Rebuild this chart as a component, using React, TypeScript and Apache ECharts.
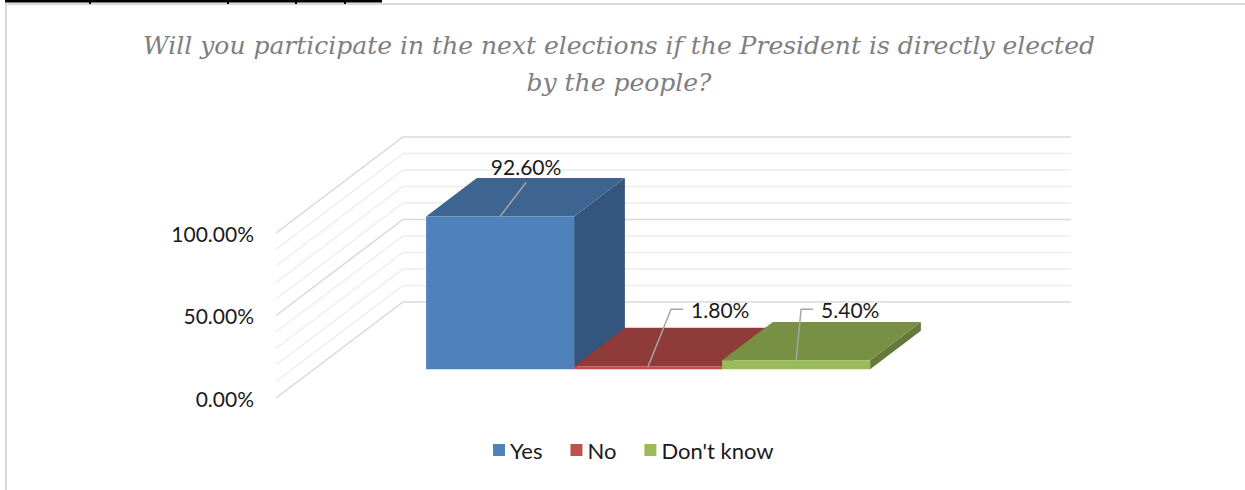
import React, { useEffect, useRef } from "react";
import * as echarts from "echarts";

const categories = ["Yes", "No", "Don't know"];
const values = [92.6, 1.8, 5.4];
const seriesColors = ["#4f81bd", "#c0504d", "#9bbb59"];
const topColors = ["#3e6491", "#8f3b3a", "#779044"];
const sideColors = ["#34557d", "#7a3231", "#66793b"];
const yTicks = [0, 50, 100];
const gridTicks = [0, 10, 20, 30, 40, 50, 60, 70, 80, 90, 100];
const titleText =
  "Will you participate in the next elections if the President is directly elected\nby the people?";

// layout (pixels)
const DX = 127;
const DY = -96;
const FRONT = 0.3;
const DEPTH = 0.4;
const GAP = 0.757;
const labelAnchors = [
  { dx: 26, dy: -34, hx: 0, mode: "above" },
  { dx: 23, dy: -57, hx: 12, mode: "side" },
  { dx: 5, dy: -51, hx: 12, mode: "side" },
];

const FONT = "Lato, 'Open Sans', sans-serif";

export default function App() {
  const ref = useRef<HTMLDivElement>(null);
  useEffect(() => {
    if (!ref.current) return;
    const chart = echarts.init(ref.current, null, { renderer: "svg" });

    const barSeries = categories.map((name, i) => ({
      name,
      type: "custom",
      clip: false,
      z: 3,
      itemStyle: { color: seriesColors[i] },
      data: [[i, values[i]]],
      renderItem: (params: any, api: any) => {
        const cat = api.value(0);
        const val = api.value(1);
        const bw = api.size([1, 0])[0];
        const p0 = api.coord([cat, 0]);
        const p1 = api.coord([cat, val]);
        const fdx = FRONT * DX;
        const fdy = FRONT * DY;
        const ddx = DEPTH * DX;
        const ddy = DEPTH * DY;
        const xl = p0[0] - bw / 2 + fdx;
        const xr = xl + bw;
        const y0 = p0[1] + fdy;
        const y1 = p1[1] + fdy;
        const children: any[] = [
          {
            type: "polygon",
            shape: { points: [[xr, y1], [xr + ddx, y1 + ddy], [xr + ddx, y0 + ddy], [xr, y0]] },
            style: { fill: sideColors[i] },
          },
          {
            type: "polygon",
            shape: { points: [[xl, y1], [xr, y1], [xr + ddx, y1 + ddy], [xl + ddx, y1 + ddy]] },
            style: { fill: topColors[i] },
          },
          {
            type: "rect",
            shape: { x: xl, y: y1, width: bw, height: Math.max(y0 - y1, 0) },
            style: { fill: seriesColors[i] },
          },
        ];
        const cx = (xl + xr) / 2;
        const a = labelAnchors[i];
        const ex = cx + a.dx;
        const ey = y1 + a.dy;
        const text = val.toFixed(2) + "%";
        if (a.mode === "above") {
          children.push({
            type: "polyline",
            shape: { points: [[cx, y1], [ex, ey]] },
            style: { stroke: "#a6a6a6", lineWidth: 1.5, fill: "none" },
          });
          children.push({
            type: "text",
            style: {
              text,
              x: ex,
              y: ey - 16,
              align: "center",
              verticalAlign: "middle",
              font: "21px " + FONT,
              fill: "#1a1a1a",
            },
          });
        } else {
          children.push({
            type: "polyline",
            shape: { points: [[cx, y1], [ex, ey], [ex + a.hx, ey]] },
            style: { stroke: "#a6a6a6", lineWidth: 1.5, fill: "none" },
          });
          children.push({
            type: "text",
            style: {
              text,
              x: ex + a.hx + 8,
              y: ey,
              align: "left",
              verticalAlign: "middle",
              font: "21px " + FONT,
              fill: "#1a1a1a",
            },
          });
        }
        return { type: "group", children };
      },
    }));

    const wallSeries = {
      name: "walls",
      type: "custom",
      silent: true,
      clip: false,
      z: 1,
      data: gridTicks.map((v) => [0, v]),
      renderItem: (params: any, api: any) => {
        const v = api.value(1);
        const bw = api.size([1, 0])[0];
        const p = api.coord([0, v]);
        const pr = api.coord([categories.length - 1, v]);
        const left = p[0] - bw / 2 - GAP * bw;
        const right = pr[0] + bw / 2 + GAP * bw + DX;
        const y = p[1];
        const major = v % 50 === 0;
        return {
          type: "polyline",
          shape: { points: [[left, y], [left + DX, y + DY], [right, y + DY]] },
          style: { stroke: major ? "#d9d9d9" : "#ededed", lineWidth: major ? 1.5 : 1.3, fill: "none" },
        };
      },
    };

    chart.setOption({
      animation: false,
      backgroundColor: "#ffffff",
      title: {
        text: titleText,
        left: 614,
        top: 22,
        textAlign: "center",
        textStyle: {
          fontFamily: "'DejaVu Serif', serif",
          fontStyle: "italic",
          fontWeight: "normal",
          fontSize: 25,
          lineHeight: 37,
          color: "#7f7f7f",
        },
      },
      legend: {
        data: categories,
        bottom: 24,
        left: 488,
        icon: "rect",
        itemWidth: 12,
        itemHeight: 12,
        itemGap: 28,
        textStyle: { fontFamily: FONT, fontSize: 22, color: "#1a1a1a" },
      },
      grid: { left: 388, width: 444, top: 233, bottom: 92 },
      xAxis: {
        type: "category",
        data: categories,
        show: false,
      },
      yAxis: {
        type: "value",
        min: 0,
        max: 100,
        interval: 50,
        axisLine: { show: false },
        axisTick: { show: false },
        splitLine: { show: false },
        axisLabel: {
          margin: 134,
          fontFamily: FONT,
          fontSize: 21,
          color: "#1a1a1a",
          formatter: (v: number) => (yTicks.includes(v) ? v.toFixed(2) + "%" : ""),
        },
      },
      graphic: [
        {
          type: "rect",
          shape: { x: 6, y: 4, width: 1400, height: 700 },
          style: { fill: "none", stroke: "#d9d9d9", lineWidth: 2 },
          silent: true,
        },
        { type: "rect", shape: { x: 5, y: 0, width: 377, height: 2.5 }, style: { fill: "#000" }, silent: true },
        { type: "rect", shape: { x: 89, y: 2, width: 2, height: 2 }, style: { fill: "#000" }, silent: true },
        { type: "rect", shape: { x: 227, y: 2, width: 2, height: 2 }, style: { fill: "#000" }, silent: true },
        { type: "rect", shape: { x: 295, y: 2, width: 2, height: 2 }, style: { fill: "#000" }, silent: true },
        { type: "rect", shape: { x: 344, y: 2, width: 2, height: 2 }, style: { fill: "#000" }, silent: true },
      ],
      series: [wallSeries, ...barSeries],
    });
    return () => chart.dispose();
  }, []);

  return (
    <div
      ref={ref}
      style={{ position: "fixed", left: 0, top: 0, width: 1245, height: 490 }}
    />
  );
}
